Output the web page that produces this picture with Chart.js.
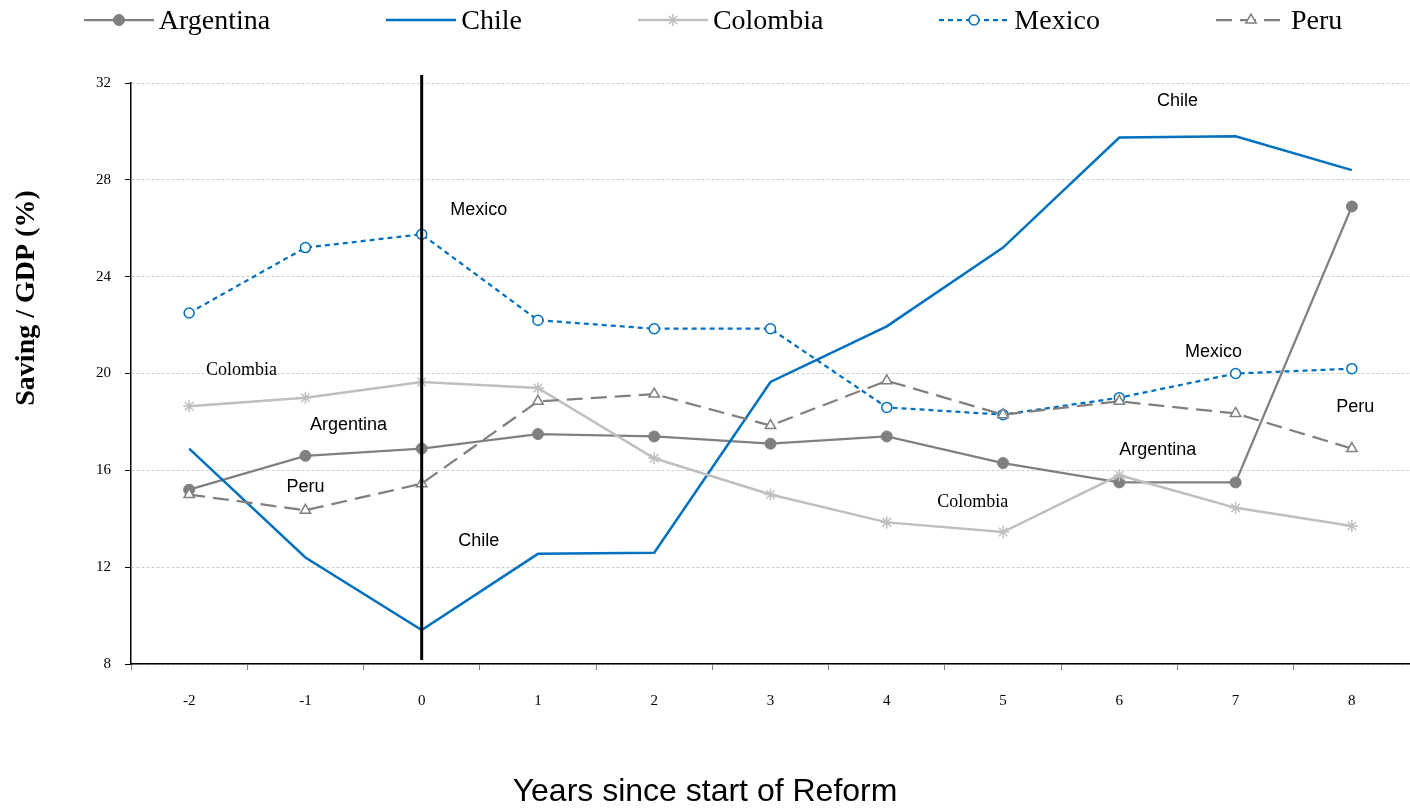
<!DOCTYPE html>
<html><head><meta charset="utf-8">
<script src="https://cdn.jsdelivr.net/npm/chart.js@4/dist/chart.umd.min.js"></script>
<style>
html,body{margin:0;padding:0;background:#fff;}
#wrap{position:relative;width:1410px;height:808px;}
#legend{position:absolute;top:3px;left:8px;width:1410px;height:34px;display:flex;justify-content:center;align-items:center;gap:116px;font-family:"Liberation Serif","Times New Roman",serif;font-size:28px;color:#000;}
.item{display:flex;align-items:center;white-space:nowrap;}
.item canvas{margin-right:5px;}
</style></head><body>
<div id="wrap"><canvas id="c" width="1410" height="808"></canvas><div id="legend"></div></div>
<script>
// ---- data ----
const years = ['-2','-1','0','1','2','3','4','5','6','7','8'];
const argentina = [15.2,16.6,16.9,17.5,17.4,17.1,17.4,16.3,15.5,15.5,26.9];
const chile = [16.9,12.4,9.4,12.55,12.6,19.65,21.95,25.2,29.75,29.8,28.4];
const colombia = [18.65,19.0,19.65,19.4,16.5,15.0,13.85,13.45,15.8,14.45,13.7];
const mexico = [22.5,25.2,25.75,22.2,21.85,21.85,18.6,18.3,19.0,20.0,20.2];
const peru = [15.0,14.35,15.45,18.85,19.15,17.85,19.7,18.3,18.85,18.35,16.9];
const yMin = 8, yMax = 32, yStep = 4;
const reformYear = '0';
const yTitle = 'Saving / GDP (%)';
const xTitle = 'Years since start of Reform';
// in-chart labels: text, year, value
const noteTexts = ['Chile','Mexico','Mexico','Colombia','Argentina','Argentina','Peru','Peru','Chile','Colombia'];
const noteYears = [6.5,0.49,6.81,-1.55,-0.63,6.33,-1.0,8.03,0.49,4.74];
const noteValues = [31.26,26.75,20.89,20.15,17.87,16.84,15.31,18.62,13.08,14.69];

// ---- styles ----
const SERIF = '"Liberation Serif","Times New Roman",serif';
const SANS = '"Liberation Sans",Arial,sans-serif';
const GREY = '#808080', LGREY = '#BFBFBF', BLUE = '#0070C0';
const noteSerif = ['Colombia'];

const datasets = [
  {label:'Argentina', data:argentina, borderColor:GREY, backgroundColor:GREY, borderWidth:2.25,
   pointStyle:'circle', pointRadius:5.5, pointBackgroundColor:GREY, pointBorderColor:GREY, pointBorderWidth:1, order:5},
  {label:'Chile', data:chile, borderColor:BLUE, backgroundColor:BLUE, borderWidth:2.5,
   pointRadius:0, order:4},
  {label:'Colombia', data:colombia, borderColor:LGREY, backgroundColor:LGREY, borderWidth:2.5,
   pointStyle:'star', pointRadius:6, pointBorderColor:LGREY, pointBorderWidth:1.5, order:3},
  {label:'Mexico', data:mexico, borderColor:BLUE, backgroundColor:'#fff', borderWidth:2.25, borderDash:[5,4],
   pointStyle:'circle', pointRadius:5, pointBackgroundColor:'#fff', pointBorderColor:BLUE, pointBorderWidth:1.5, order:2},
  {label:'Peru', data:peru, borderColor:GREY, backgroundColor:'#fff', borderWidth:2.25, borderDash:[16,8],
   pointStyle:'triangle', pointRadius:6, pointBackgroundColor:'#fff', pointBorderColor:GREY, pointBorderWidth:1.5, order:1}
];
datasets.forEach(d => { d.fill = false; d.tension = 0; d.pointHoverRadius = d.pointRadius; });

const extras = {
  id:'extras',
  afterDatasetsDraw(chart){
    const {ctx, chartArea, scales:{x,y}} = chart;
    // reform line
    const px = x.getPixelForValue(years.indexOf(reformYear));
    ctx.save();
    ctx.strokeStyle = '#000'; ctx.lineWidth = 3;
    ctx.beginPath(); ctx.moveTo(px, chartArea.top - 8); ctx.lineTo(px, chartArea.bottom - 4); ctx.stroke();
    // notes
    ctx.fillStyle = '#000'; ctx.textAlign = 'center'; ctx.textBaseline = 'middle';
    noteTexts.forEach((t,i) => {
      ctx.font = noteSerif.includes(t) ? '18px ' + SERIF : '18px ' + SANS;
      ctx.fillText(t, x.getPixelForValue(noteYears[i] + 2), y.getPixelForValue(noteValues[i]));
    });
    // y title
    ctx.font = 'bold 28px ' + SERIF;
    ctx.translate(27, chartArea.top + (chartArea.bottom - chartArea.top) * 0.37);
    ctx.rotate(-Math.PI/2);
    ctx.fillText(yTitle, 0, 0);
    ctx.restore();
  }
};

const chart = new Chart(document.getElementById('c'), {
  type:'line',
  data:{labels:years, datasets},
  options:{
    responsive:false, animation:false,
    layout:{autoPadding:false, padding:{top:83, left:0, right:0, bottom:0}},
    plugins:{
      legend:{display:false}, tooltip:{enabled:false},
      title:{display:true, position:'bottom', text:xTitle, color:'#000',
        font:{family:SANS, size:32, weight:'normal', lineHeight:1}, padding:{top:0,bottom:0}}
    },
    scales:{
      x:{
        offset:true,
        grid:{offset:true, drawOnChartArea:false, drawTicks:true, tickLength:6, tickColor:'#808080', tickWidth:1},
        border:{display:true, color:'#000', width:1.5},
        ticks:{color:'#000', font:{family:SERIF, size:15}, padding:22, maxRotation:0},
        afterFit(s){ s.height = 112; s.paddingLeft = 0; s.paddingRight = 0; }
      },
      y:{
        min:yMin, max:yMax,
        ticks:{stepSize:yStep, color:'#000', font:{family:SERIF, size:15}, padding:14},
        grid:{color:'#D0D0D0', lineWidth:1, drawTicks:true, tickLength:6, tickColor:'#000', tickWidth:1, tickBorderDash:[]},
        border:{display:true, color:'#000', width:1.5, dash:[3,2]},
        afterFit(s){ s.width = 131; }
      }
    }
  },
  plugins:[extras]
});

// HTML legend from datasets
function drawSwatch(ds){
  const cv = document.createElement('canvas');
  cv.width = 70; cv.height = 20;
  const c = cv.getContext('2d');
  c.strokeStyle = ds.borderColor; c.lineWidth = ds.borderWidth;
  c.setLineDash(ds.borderDash || []);
  c.beginPath(); c.moveTo(0,10); c.lineTo(70,10); c.stroke();
  c.setLineDash([]);
  if (ds.pointRadius > 0) {
    c.fillStyle = ds.pointBackgroundColor || '#fff';
    c.strokeStyle = ds.pointBorderColor; c.lineWidth = ds.pointBorderWidth;
    if (Chart.helpers && Chart.helpers.drawPoint) {
      Chart.helpers.drawPoint(c, {pointStyle:ds.pointStyle, radius:ds.pointRadius, rotation:0, borderWidth:ds.pointBorderWidth}, 35, 10);
    } else {
      c.beginPath(); c.arc(35,10,ds.pointRadius,0,Math.PI*2); c.fill(); c.stroke();
    }
  }
  return cv;
}
const leg = document.getElementById('legend');
chart.data.datasets.forEach(ds => {
  const it = document.createElement('div'); it.className = 'item';
  it.appendChild(drawSwatch(ds));
  const sp = document.createElement('span'); sp.textContent = ds.label;
  it.appendChild(sp);
  leg.appendChild(it);
});
</script>
</body></html>
